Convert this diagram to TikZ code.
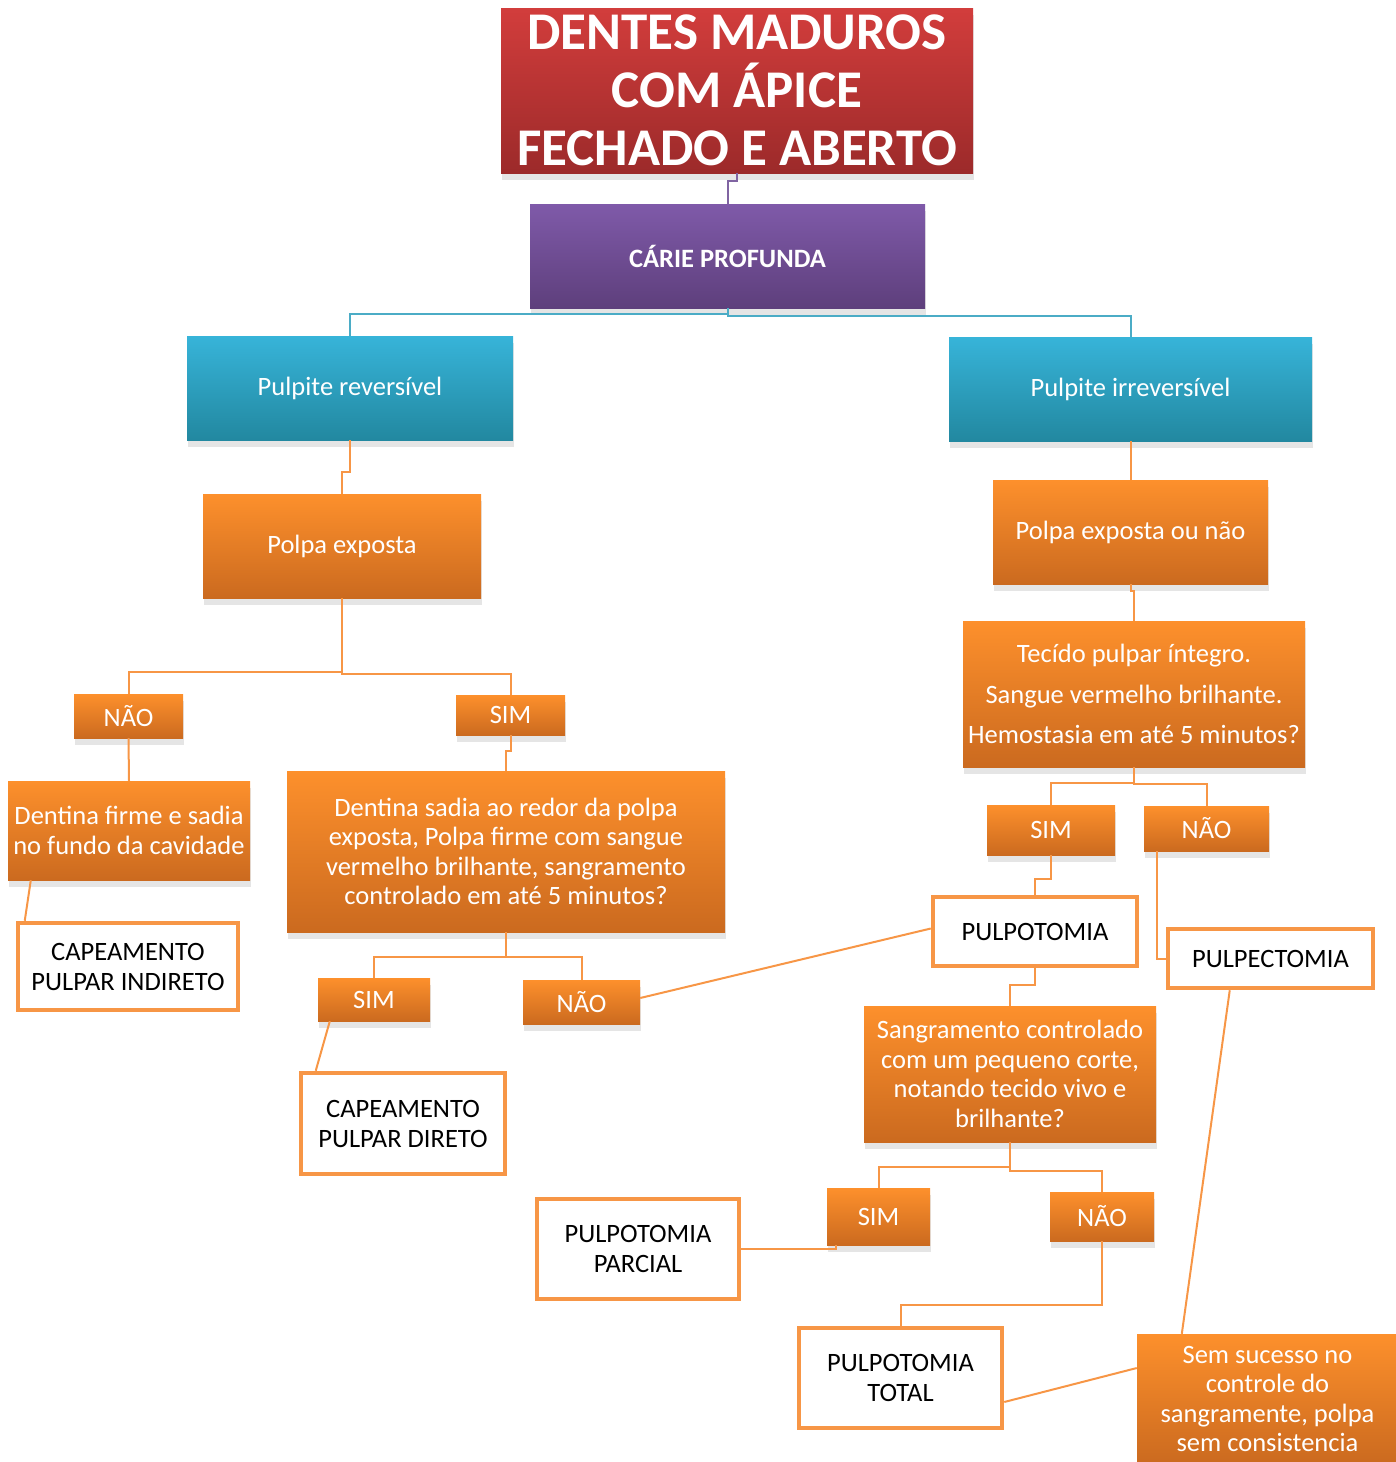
\documentclass[tikz,border=0pt]{standalone}
\usepackage{fontspec}
\setmainfont{Carlito}
\usetikzlibrary{positioning}
\usetikzlibrary{calc}
\usetikzlibrary{shadows}

\definecolor{orTop}{HTML}{FD902C}
\definecolor{orBot}{HTML}{CB6A1F}
\definecolor{orLine}{HTML}{F79646}
\definecolor{rdTop}{HTML}{D23D3C}
\definecolor{rdBot}{HTML}{9C2A2A}
\definecolor{puTop}{HTML}{7F5AA9}
\definecolor{puBot}{HTML}{5E3F7C}
\definecolor{tlTop}{HTML}{37B4D9}
\definecolor{tlBot}{HTML}{2288A0}
\definecolor{tlLine}{HTML}{4BACC6}
\definecolor{puLine}{HTML}{8064A2}

\tikzset{
  sz/.style 2 args={minimum width=#1, minimum height=#2},
  base/.style={rectangle, inner sep=0pt, align=center, text=white,
    font=\fontsize{26.5}{29.5}\selectfont,
    drop shadow={shadow xshift=1pt, shadow yshift=-7pt, fill=black!20, opacity=.5}},
  obox/.style={base, top color=orTop, bottom color=orBot},
  tbox/.style={base, top color=tlTop, bottom color=tlBot},
  rbox/.style={base, top color=rdTop, bottom color=rdBot},
  pbox/.style={base, top color=puTop, bottom color=puBot},
  wbox/.style={rectangle, inner sep=0pt, align=center, fill=white, draw=orLine,
    line width=4.5pt, text=black, font=\fontsize{26.5}{30}\selectfont},
  oline/.style={draw=orLine, line width=2pt},
  tline/.style={draw=tlLine, line width=2pt},
  pline/.style={draw=puLine, line width=2pt},
}

\begin{document}
\begin{tikzpicture}[x=1pt,y=-1pt]
            \useasboundingbox (0,0) rectangle (1396,1462);
            % top of the tree
            \node[rbox, sz={472}{165}, font=\bfseries\fontsize{53}{58}\selectfont] (title) at (737,90.5)
                {DENTES MADUROS\\COM ÁPICE\\FECHADO E ABERTO};
            \node[pbox, sz={395}{104}, font=\bfseries\fontsize{26.5}{29}\selectfont] (carie) at (727.5,256) {CÁRIE PROFUNDA};
            \node[tbox, sz={326}{104}]         (p_rev)   at (350,388)    {Pulpite reversível};
            \node[tbox, sz={363}{104}]         (p_irr)   at (1130.5,389) {Pulpite irreversível};
            % left branch
            \node[obox, sz={278}{104}]         (polpa_a) at (342,546)    {Polpa exposta};
            \node[obox, sz={109}{44}]          (nao_a)   at (128.5,716)  {NÃO};
            \node[obox, sz={109}{40}]          (sim_a)   at (510.5,715)  {SIM};
            \node[obox, sz={242}{99}]          (dent_a)  at (129,830.5)  {Dentina firme e sadia\\no fundo da cavidade};
            \node[wbox, sz={220}{87}]          (cap_ind) at (128,966.5)  {CAPEAMENTO\\PULPAR INDIRETO};
            \node[obox, sz={438}{161}]         (dent_b)  at (506,851.5)
                {Dentina sadia ao redor da polpa\\exposta, Polpa firme com sangue\\vermelho brilhante, sangramento\\controlado em até 5 minutos?};
            \node[obox, sz={112}{43}]          (sim_b)   at (374,999.5)  {SIM};
            \node[obox, sz={117}{44}]          (nao_b)   at (581.5,1002) {NÃO};
            \node[wbox, sz={204}{101}]         (cap_dir) at (403,1123.5) {CAPEAMENTO\\PULPAR DIRETO};
            % right branch
            \node[obox, sz={275}{104}]         (polpa_b) at (1130.5,532) {Polpa exposta ou não};
            \node[obox, sz={342}{146}, font=\fontsize{26.5}{40.5}\selectfont] (tecido) at (1134,694)
                {Tecído pulpar íntegro.\\Sangue vermelho brilhante.\\Hemostasia em até 5 minutos?};
            \node[obox, sz={128}{50}]          (sim_c)   at (1051,830)   {SIM};
            \node[obox, sz={125}{45}]          (nao_c)   at (1206.5,828.5) {NÃO};
            \node[wbox, sz={204}{69}]          (pulpo)   at (1035,931.5) {PULPOTOMIA};
            \node[wbox, sz={205}{59}]          (pulpec)  at (1270.5,958.5) {PULPECTOMIA};
            \node[obox, sz={292}{136}]         (sang)    at (1010,1074)
                {Sangramento controlado\\com um pequeno corte,\\notando tecido vivo e\\brilhante?};
            \node[obox, sz={103}{57}]          (sim_d)   at (878.5,1216.5) {SIM};
            \node[obox, sz={104}{49}]          (nao_d)   at (1102,1216.5) {NÃO};
            \node[wbox, sz={202}{100}]         (parcial) at (638,1249)   {PULPOTOMIA\\PARCIAL};
            \node[wbox, sz={203}{100}]         (total)   at (900.5,1378) {PULPOTOMIA\\TOTAL};
            \node[obox, sz={261}{130}]         (semsuc)  at (1267.5,1399)
                {Sem sucesso no\\controle do\\sangramente, polpa\\sem consistencia};
            % connectors
            \draw[pline] (title.south) -- ++(0,8) -| (carie.north);
            \draw[tline] (carie.south) -- ++(0,6) -| (p_rev.north);
            \draw[tline] (carie.south) -- ++(0,8) -| (p_irr.north);
            \draw[oline] (p_rev.south) -- ++(0,32) -| (polpa_a.north);
            \draw[oline] (polpa_a.south) -- ++(0,74) -| (nao_a.north);
            \draw[oline] (polpa_a.south) -- ++(0,76) -| (sim_a.north);
            \draw[oline] (nao_a.south) -- (dent_a.north);
            \draw[oline] ($(dent_a.south west)+(23,0)$) -- ($(cap_ind.north west)+(9,0)$);
            \draw[oline] (sim_a.south) -- ++(0,16) -| (dent_b.north);
            \draw[oline] (dent_b.south) -- ++(0,25) -| (sim_b.north);
            \draw[oline] (dent_b.south) -- ++(0,25) -| (nao_b.north);
            \draw[oline] ($(sim_b.south west)+(12,0)$) -- ($(cap_dir.north west)+(17,0)$);
            \draw[oline] ($(nao_b.east)+(0,-4)$) -- ($(pulpo.west)+(0,-3)$);
            \draw[oline] (p_irr.south) -- (polpa_b.north);
            \draw[oline] (polpa_b.south) -- ++(0,7) -| (tecido.north);
            \draw[oline] (tecido.south) -- ++(0,16) -| (sim_c.north);
            \draw[oline] (tecido.south) -- ++(0,17) -| (nao_c.north);
            \draw[oline] (sim_c.south) -- ++(0,24) -| (pulpo.north);
            \draw[oline] ($(nao_c.south west)+(13,0)$) |- (pulpec.west);
            \draw[oline] (pulpo.south) -- ++(0,17) -| (sang.north);
            \draw[oline] (sang.south) -- ++(0,25) -| (sim_d.north);
            \draw[oline] (sang.south) -- ++(0,29) -| (nao_d.north);
            \draw[oline] ($(sim_d.south west)+(9,0)$) |- (parcial.east);
            \draw[oline] (nao_d.south) -- ++(0,64) -| (total.north);
            \draw[oline] ($(total.east)+(0,24)$) -- ($(semsuc.west)+(0,-31)$);
            \draw[oline] ($(pulpec.south west)+(64,0)$) -- ($(semsuc.north west)+(45,0)$);
\end{tikzpicture}
\end{document}
